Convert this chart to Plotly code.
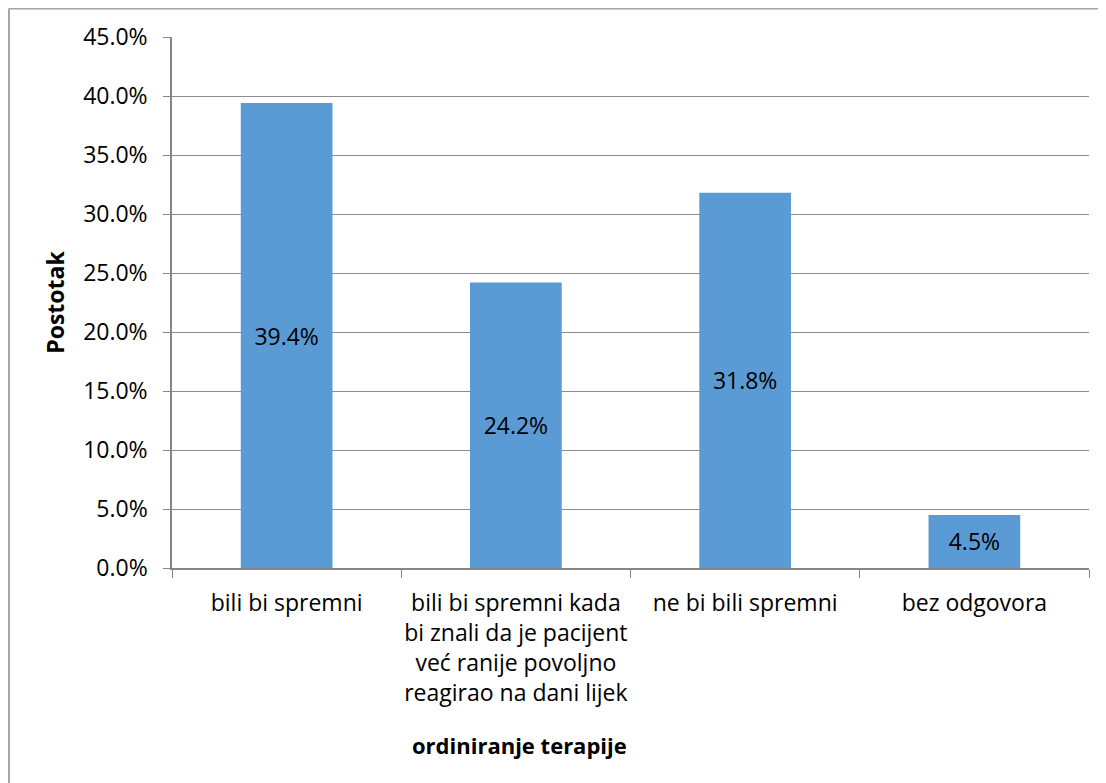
import plotly.graph_objects as go

categories = [
    "bili bi spremni",
    "bili bi spremni kada<br>bi znali da je pacijent<br>već ranije povoljno<br>reagirao na dani lijek",
    "ne bi bili spremni",
    "bez odgovora",
]
values = [39.4, 24.2, 31.8, 4.5]
value_labels = ["39.4%", "24.2%", "31.8%", "4.5%"]

FONT = "Open Sans"

W, H = 1098, 775
L, T = 164, 29
R = W - (1089 - 8)
B = H - (568 - 8)

fig = go.Figure(go.Bar(
    x=categories,
    y=values,
    width=0.4,
    marker=dict(color="#5B9BD5", line=dict(width=0)),
    text=value_labels,
    textposition="inside",
    insidetextanchor="middle",
    textangle=0,
    textfont=dict(family=FONT, size=23, color="#000000"),
))

fig.update_layout(
    width=W, height=H,
    margin=dict(l=L, r=R, t=T, b=B),
    paper_bgcolor="white", plot_bgcolor="white",
    showlegend=False,
    font=dict(family=FONT, size=22, color="#000000"),
    xaxis=dict(
        showline=True, linecolor="#868686", linewidth=1.5,
        ticks="outside", tickson="boundaries", ticklen=8, tickcolor="#868686",
        tickfont=dict(family=FONT, size=23),
        tickangle=0,
        ticklabelstandoff=14,
        showgrid=False,
        automargin=False,
    ),
    yaxis=dict(
        range=[0, 45], dtick=5, tickformat=".1f", ticksuffix="%",
        showline=True, linecolor="#868686", linewidth=1.5,
        ticks="outside", ticklen=7, tickcolor="#868686",
        showgrid=True, gridcolor="#8c8c8c", gridwidth=1,
        tickfont=dict(family=FONT, size=23),
        ticklabelstandoff=11,
        title=dict(text="<b>Postotak</b>", font=dict(family=FONT, size=23), standoff=12),
        zeroline=False,
        automargin=False,
    ),
)

pw = W - L - R
ph = H - T - B

# x-axis title positioned like the original (centred under the chart, not the plot area)
fig.add_annotation(
    text="<b>ordiniranje terapije</b>", showarrow=False,
    xref="paper", yref="paper",
    x=(519 - 172) / pw, y=(568 - 745) / ph,
    xanchor="center", yanchor="middle",
    font=dict(family=FONT, size=22, color="#000000"),
)

# chart-area border (top and left edges visible in the original crop)
x_left = (1 - L) / pw
y_top = (H - B - 0.5) / ph
fig.add_shape(type="line", xref="paper", yref="paper", x0=x_left, x1=(W + 20 - L) / pw,
              y0=y_top, y1=y_top, line=dict(color="#a6a6a6", width=2))
fig.add_shape(type="line", xref="paper", yref="paper", x0=x_left, x1=x_left,
              y0=y_top, y1=-(B + 20) / ph, line=dict(color="#a6a6a6", width=2))

fig.write_html("out.html")
